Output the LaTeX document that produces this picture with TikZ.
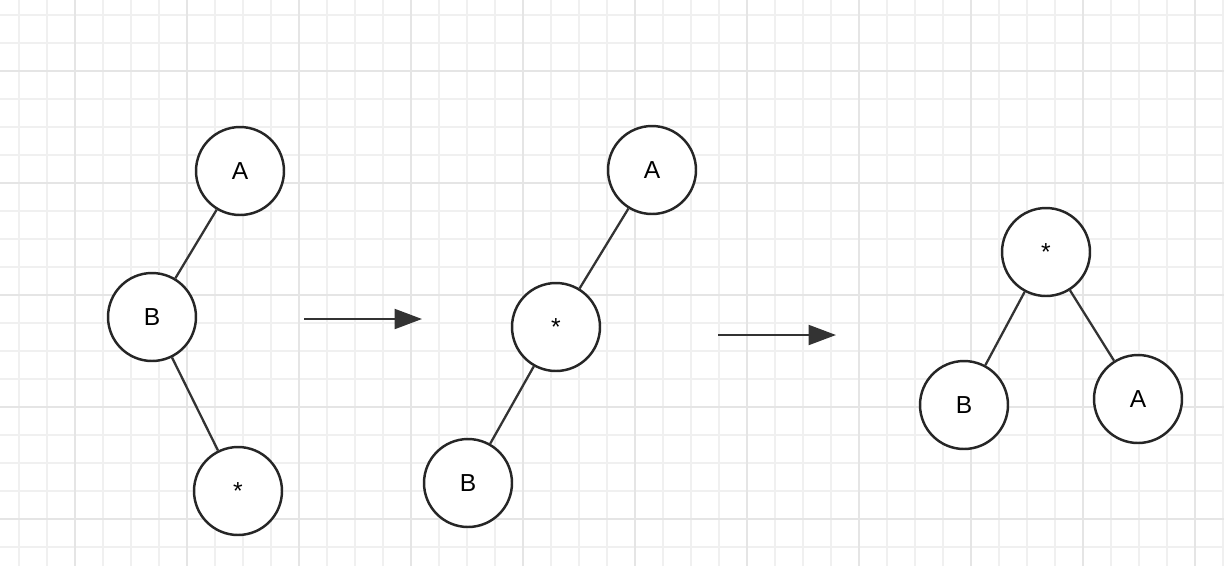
\documentclass[tikz,border=0pt]{standalone}
\usepackage{fontspec}
\setmainfont{Liberation Sans}
\usetikzlibrary{arrows.meta}
\tikzset{
  font={\fontsize{14pt}{16}\selectfont}}

\begin{document}
\begin{tikzpicture}[x=0.02cm,y=-0.02cm]
\tikzstyle{vert}=[draw=black!85,line width=1.4pt,circle,minimum size=1.76cm,inner sep=0pt,fill=white]
\tikzstyle{edge}=[black!80,line width=1.3pt]
\useasboundingbox (0,0) rectangle (1224,566);
\fill [white] (0,0) rectangle (1224,566);
\foreach \x in {19,47,...,1224} \draw [black!6,line width=0.6pt] (\x,0) -- (\x,566);
\foreach \y in {15,43,...,566} \draw [black!6,line width=0.6pt] (0,\y) -- (1224,\y);
\foreach \x in {75,187,...,1224} \draw [black!10,line width=1pt] (\x,0) -- (\x,566);
\foreach \y in {71,183,...,566} \draw [black!10,line width=1pt] (0,\y) -- (1224,\y);
% left tree
\node [vert] (la) at (240,171) {A};
\node [vert] (lb) at (152,317) {B};
\node [vert] (ls) at (238,491) {*};
\draw [edge] (la) -- (lb);
\draw [edge] (lb) -- (ls);
% middle tree
\node [vert] (ma) at (652,170) {A};
\node [vert] (ms) at (556,327) {*};
\node [vert] (mb) at (468,483) {B};
\draw [edge] (ma) -- (ms);
\draw [edge] (ms) -- (mb);
% right tree
\node [vert] (rs) at (1046,252) {*};
\node [vert] (rb) at (964,405) {B};
\node [vert] (ra) at (1138,399) {A};
\draw [edge] (rs) -- (rb);
\draw [edge] (rs) -- (ra);
% arrows
\coordinate (p1) at (304,319);
\coordinate (q1) at (422,319);
\coordinate (p2) at (718,335);
\coordinate (q2) at (836,335);
\draw [edge,-{Triangle[length=0.55cm,width=0.4cm]}] (p1) -- (q1);
\draw [edge,-{Triangle[length=0.55cm,width=0.4cm]}] (p2) -- (q2);
\end{tikzpicture}
\end{document}
